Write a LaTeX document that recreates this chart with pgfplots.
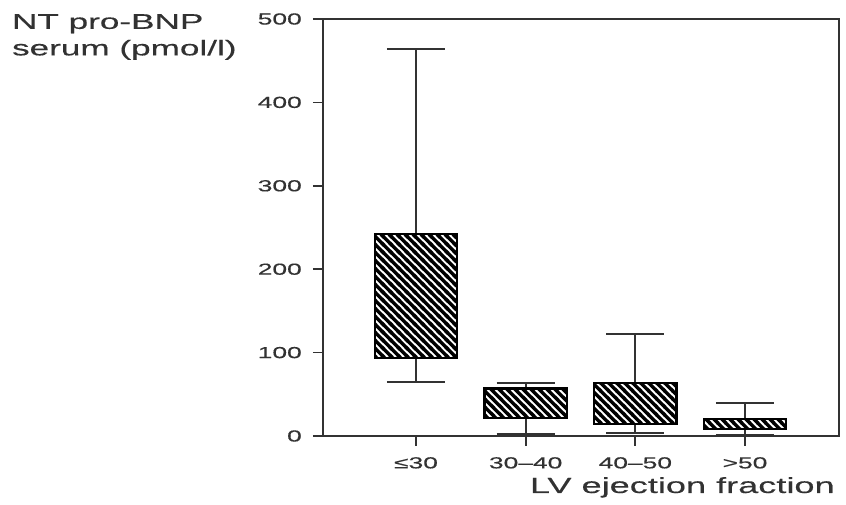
\documentclass[border=0pt]{standalone}
\usepackage{fontspec}
\setmainfont{Liberation Sans}[FakeStretch=1.65, FakeBold=0.35]
\usepackage{pgfplots}
\pgfplotsset{compat=1.18}
\usetikzlibrary{patterns}
\definecolor{axgray}{RGB}{50,50,50}
\pgfdeclarepatternformonly{thicknw}{\pgfqpoint{0pt}{0pt}}{\pgfqpoint{8.35pt}{8.35pt}}{\pgfqpoint{8.35pt}{8.35pt}}{%
  \pgfsetlinewidth{3.6pt}%
  \pgfpathmoveto{\pgfqpoint{-8.35pt}{16.7pt}}\pgfpathlineto{\pgfqpoint{16.7pt}{-8.35pt}}%
  \pgfpathmoveto{\pgfqpoint{0pt}{16.7pt}}\pgfpathlineto{\pgfqpoint{16.7pt}{0pt}}%
  \pgfpathmoveto{\pgfqpoint{-8.35pt}{8.35pt}}\pgfpathlineto{\pgfqpoint{8.35pt}{-8.35pt}}%
  \pgfusepath{stroke}}
\begin{document}
\begin{tikzpicture}
\path[use as bounding box] (-323pt,-69pt) rectangle (523pt,436pt);
\begin{axis}[
  scale only axis, width=516pt, height=417pt,
  xmin=-0.848, xmax=3.857, ymin=0, ymax=500,
  axis line style={draw=axgray, line width=1.7pt},
  ytick={0,100,200,300,400,500},
  xtick={0,1,2,3},
  xticklabels={≤30,30–40,40–50,>50},
  ytick pos=left, xtick pos=bottom,
  tick align=outside,
  major tick length=10pt,
  tick style={draw=axgray, line width=1.7pt},
  /pgf/number format/assume math mode=true,
  ticklabel style={font=\fontsize{16}{19}\selectfont, text=axgray},
  yticklabel style={inner sep=0pt, xshift=-11pt},
  xticklabel style={inner sep=0pt, yshift=-11pt},
  every axis x label/.style={at={(rel axis cs:0.992,0)}, anchor=base east, yshift=-57pt, inner sep=0pt, font=\fontsize{21.9}{26}\selectfont, text=axgray},
  every axis y label/.style={at={(rel axis cs:-0.603,1.012)}, anchor=north west, inner sep=0pt, align=left, font=\fontsize{21.3}{26.5}\selectfont, text=axgray},
  xlabel={LV ejection fraction},
  ylabel={NT pro-BNP\\serum (pmol/l)},
  clip=false,
  unbounded coords=jump,
]
% whiskers
\addplot[axgray, line width=1.9pt, mark=none] coordinates {
 (0,242) (0,464) (0,nan) (-0.265,464) (0.265,464) (0,nan)
 (0,94) (0,65) (0,nan) (-0.265,65) (0.265,65) (0,nan)
 (1,57) (1,64) (1,nan) (0.735,64) (1.265,64) (1,nan)
 (1,22) (1,2) (1,nan) (0.735,2) (1.265,2) (1,nan)
 (2,64) (2,122) (2,nan) (1.735,122) (2.265,122) (2,nan)
 (2,14) (2,4) (2,nan) (1.735,4) (2.265,4) (2,nan)
 (3,20) (3,40) (3,nan) (2.735,40) (3.265,40) (3,nan)
 (3,8) (3,1) (3,nan) (2.735,1) (3.265,1)
};
% boxes
\addplot[draw=black, line width=2.2pt, pattern=thicknw, mark=none] coordinates {(-0.375,94) (0.375,94) (0.375,242) (-0.375,242)} -- cycle;
\addplot[draw=black, line width=2.2pt, pattern=thicknw, mark=none] coordinates {(0.625,22) (1.375,22) (1.375,57) (0.625,57)} -- cycle;
\addplot[draw=black, line width=2.2pt, pattern=thicknw, mark=none] coordinates {(1.625,14) (2.375,14) (2.375,64) (1.625,64)} -- cycle;
\addplot[draw=black, line width=2.2pt, pattern=thicknw, mark=none] coordinates {(2.625,8) (3.375,8) (3.375,20) (2.625,20)} -- cycle;
\end{axis}
\end{tikzpicture}
\end{document}
